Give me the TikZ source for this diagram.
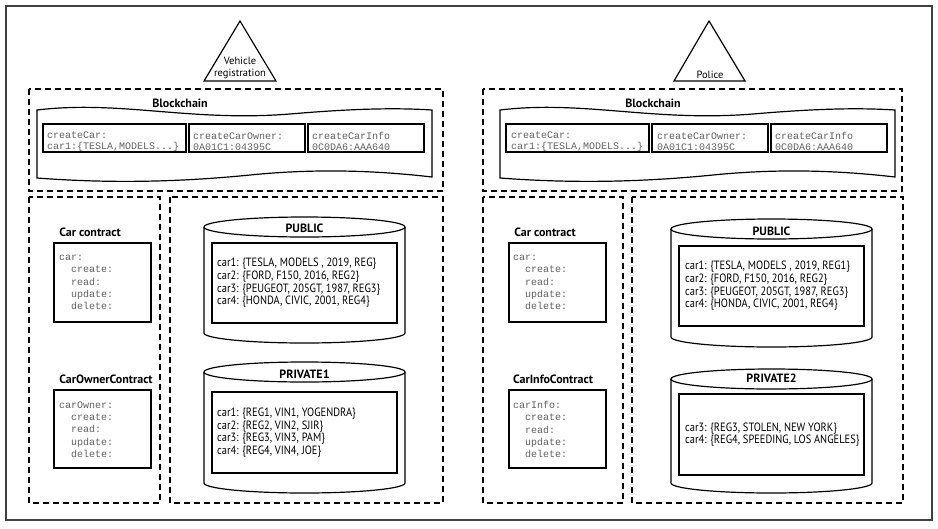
\documentclass[tikz,border=0pt]{standalone}
\usepackage{fontspec}
\setmainfont{PT Sans}
\setmonofont{Liberation Mono}
\newfontfamily\recfont{PT Sans}[FakeStretch=0.87]
\newcommand{\ind}{\hspace*{12pt}}
\begin{document}
\begin{tikzpicture}[x=1pt,y=-1pt,
	dbox/.style={dash pattern=on 6pt off 4pt,line width=1.2pt},
	sbox/.style={line width=1.2pt},
	lbl/.style={font=\fontsize{12}{14}\selectfont\bfseries,inner sep=0pt},
	txc/.style={font=\fontsize{10}{11}\selectfont\ttfamily,text=black!62,align=left,anchor=west,inner sep=0pt},
	code/.style={font=\fontsize{10}{12.3}\selectfont\ttfamily,text=black!62,align=left,anchor=west,inner sep=0pt},
	rec/.style={font=\fontsize{12}{12.7}\selectfont\recfont,align=left,anchor=west,inner sep=0pt}]
	\useasboundingbox (0,0) rectangle (938,528);
	\draw[line width=1.2pt,black!75] (6,6) rectangle (932,520);
	% organisations
	\draw[sbox] (204,81)--(240,21)--(276,81)--cycle;
	\node[font=\fontsize{10.5}{12}\selectfont,align=center,inner sep=0pt] (vreg) at (240,68) {Vehicle\\registration};
	\draw[sbox] (674,81)--(709,21)--(745,81)--cycle;
	\node[font=\fontsize{10.5}{12}\selectfont,inner sep=0pt] (police) at (710,75) {Police};
	% blockchain
	\draw[dbox] (29,89) rectangle (443,191);
	\draw[dbox] (483,89) rectangle (902,191);
	\foreach \dx in {0,463}{
		\draw[sbox,xshift=\dx] (37,110) .. controls (120,100) and (190,122) .. (290,114) .. controls (360,108) and (400,108) .. (432,110) -- (432,177) .. controls (380,171) and (320,168) .. (250,175) .. controls (160,184) and (90,182) .. (37,178) -- cycle;
		\draw[sbox,xshift=\dx] (43,124) rectangle (186,152) (189,124) rectangle (305,152) (308,124) rectangle (424,152);
	}
	\node[lbl] (bcl) at (180,103) {Blockchain};
	\node[lbl] (bcr) at (653,103) {Blockchain};
	\node[txc] (txl1) at (47,141.5) {createCar:\\car1:\{TESLA,MODELS...\}};
	\node[txc] (txl2) at (193,141.5) {createCarOwner:\\0A01C1:04395C};
	\node[txc] (txl3) at (312,141.5) {createCarInfo\\0C0DA6:AAA640};
	\node[txc] (txr1) at (511,141.5) {createCar:\\car1:\{TESLA,MODELS...\}};
	\node[txc] (txr2) at (657,141.5) {createCarOwner:\\0A01C1:04395C};
	\node[txc] (txr3) at (775,141.5) {createCarInfo\\0C0DA6:AAA640};
	% contracts
	\draw[dbox] (29,197) rectangle (160,503);
	\draw[dbox] (170,197) rectangle (443,503);
	\draw[dbox] (483,197) rectangle (623,503);
	\draw[dbox] (632,197) rectangle (903,503);
	\draw[sbox] (54,243) rectangle (151,322) (54,390) rectangle (151,468);
	\draw[sbox] (509,243) rectangle (606,322) (509,390) rectangle (606,468);
	\node[lbl] (ccl) at (90,232) {Car contract};
	\node[code] (ccodel) at (59,282.5) {car:\\\ind create:\\\ind read:\\\ind update:\\\ind delete:};
	\node[lbl] (ocl) at (106,379) {CarOwnerContract};
	\node[code] (ocode) at (59,429.5) {carOwner:\\\ind create:\\\ind read:\\\ind update:\\\ind delete:};
	\node[lbl] (ccr) at (545,232) {Car contract};
	\node[code] (ccoder) at (513,282.5) {car:\\\ind create:\\\ind read:\\\ind update:\\\ind delete:};
	\node[lbl] (icr) at (553,379) {CarInfoContract};
	\node[code] (icode) at (513,429.5) {carInfo:\\\ind create:\\\ind read:\\\ind update:\\\ind delete:};
	% private data collections
	\foreach \xa/\ya/\yb in {204/227/333,204/372/483,671/229/337,671/379/483}{
		\draw[sbox] (\xa,\ya) -- (\xa,\yb) arc[start angle=180,end angle=360,x radius=100.5pt,y radius=10pt] -- (\xa+201,\ya);
		\draw[sbox,fill=white] (\xa+100.5,\ya) ellipse[x radius=100.5pt,y radius=10pt];
	}
	\draw[sbox] (212,243) rectangle (397,323) (212,392) rectangle (397,473);
	\draw[sbox] (679,246) rectangle (864,326) (679,394) rectangle (864,475);
	\node[lbl] (publ) at (304.5,228) {PUBLIC};
	\node[lbl] (priv1) at (304.5,374) {PRIVATE1};
	\node[lbl] (pubr) at (771.5,231) {PUBLIC};
	\node[lbl] (priv2) at (771.5,378) {PRIVATE2};
	\node[rec] (recl) at (217,283) {car1: \{TESLA, MODELS , 2019, REG\}\\car2: \{FORD, F150, 2016, REG2\}\\car3: \{PEUGEOT, 205GT, 1987, REG3\}\\car4: \{HONDA, CIVIC, 2001, REG4\}};
	\node[rec] (recp1) at (217,432.5) {car1: \{REG1, VIN1, YOGENDRA\}\\car2: \{REG2, VIN2, SJIR\}\\car3: \{REG3, VIN3, PAM\}\\car4: \{REG4, VIN4, JOE\}};
	\node[rec] (recr) at (685,286) {car1: \{TESLA, MODELS , 2019, REG1\}\\car2: \{FORD, F150, 2016, REG2\}\\car3: \{PEUGEOT, 205GT, 1987, REG3\}\\car4: \{HONDA, CIVIC, 2001, REG4\}};
	\node[rec] (recp2) at (685,434.5) {car3: \{REG3, STOLEN, NEW YORK\}\\car4: \{REG4, SPEEDING, LOS ANGELES\}};
\end{tikzpicture}
\end{document}
